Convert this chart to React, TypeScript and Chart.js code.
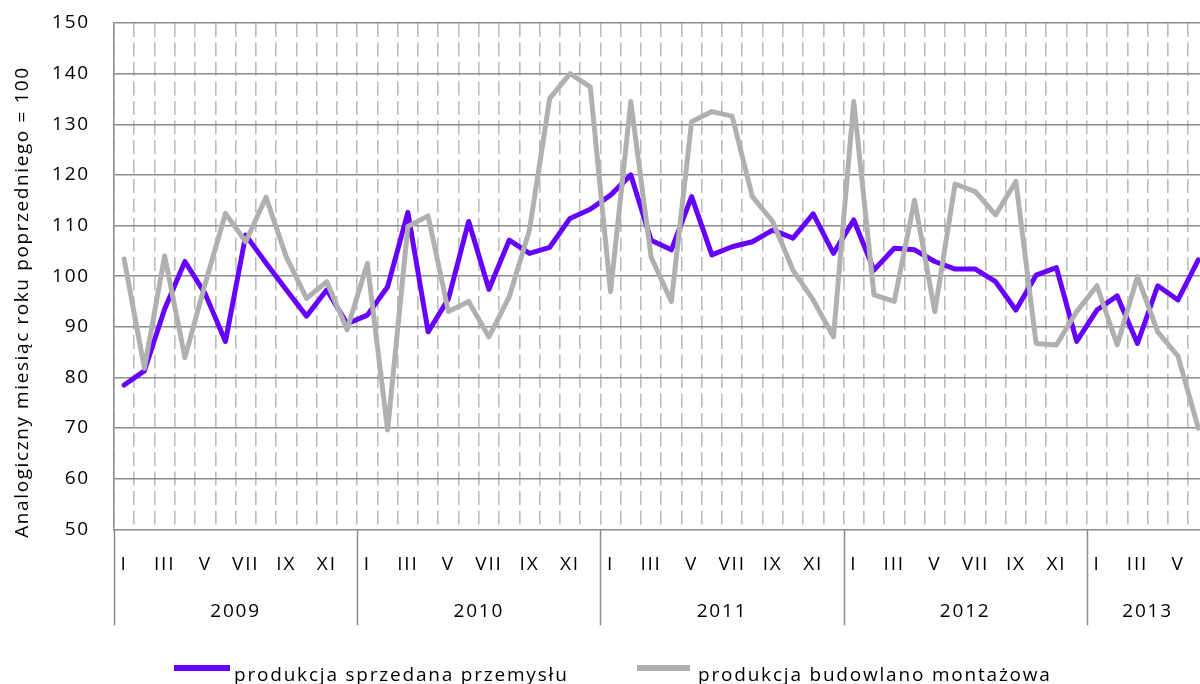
import React, { useEffect, useRef } from 'react';
import { Chart, registerables } from 'chart.js';

Chart.register(...registerables);

// ---------- data ----------
const years = ['2009', '2010', '2011', '2012', '2013'];
const monthsInYear = [12, 12, 12, 12, 6];
const romanMonths = ['I', 'II', 'III', 'IV', 'V', 'VI', 'VII', 'VIII', 'IX', 'X', 'XI', 'XII'];
const labelledMonths = ['I', 'III', 'V', 'VII', 'IX', 'XI'];

const industrySales = [
  78.5, 81.3, 93.5, 102.9, 96.5, 87.1, 108.1, 102.6, 97.3, 92.1, 97.3, 90.6,
  92.3, 97.9, 112.6, 89.0, 95.5, 110.8, 97.4, 107.1, 104.5, 105.7, 111.4, 113.2,
  116.0, 120.0, 107.1, 105.2, 115.7, 104.2, 105.8, 106.8, 109.1, 107.5, 112.3, 104.5,
  111.1, 101.2, 105.5, 105.2, 102.9, 101.4, 101.4, 98.9, 93.3, 100.2, 101.7, 87.1,
  93.3, 96.1, 86.7, 98.1, 95.3, 103.2,
];

const constructionOutput = [
  103.4, 81.8, 104.0, 83.9, 98.5, 112.4, 106.8, 115.6, 103.8, 95.6, 98.9, 89.4,
  102.5, 69.6, 109.8, 111.9, 93.0, 95.0, 88.0, 95.9, 109.1, 135.1, 140.0, 137.4,
  96.9, 134.5, 103.8, 95.0, 130.5, 132.5, 131.6, 115.7, 110.8, 101.2, 95.3, 88.0,
  134.5, 96.3, 95.0, 115.0, 93.0, 118.2, 116.7, 112.1, 118.7, 86.7, 86.4, 93.0,
  98.1, 86.4, 99.9, 89.0, 84.2, 70.0,
];

const seriesNames = ['produkcja sprzedana przemysłu', 'produkcja budowlano montażowa'];
const seriesColors = ['#6600ff', '#b0b0b0'];
const yMin = 50;
const yMax = 150;
const yStep = 10;
const yTitle = 'Analogiczny miesiąc roku poprzedniego = 100';

// ---------- derived category table ----------
const catMonth: string[] = [];
const catYear: string[] = [];
years.forEach((y, yi) => {
  for (let m = 0; m < monthsInYear[yi]; m++) {
    catMonth.push(romanMonths[m]);
    catYear.push(y);
  }
});
const categories = catMonth.map((m, i) => `${m} ${catYear[i]}`);

// ---------- layout constants ----------
const CANVAS_W = 1232;
const CANVAS_H = 700;
const FONT_FAMILY = '"Open Sans", Lato, sans-serif';
const FONT_SIZE = 19;
const LETTER_SPACING = '1.8px';
const AXIS_GREY = '#8c8c8c';

const excelAxisPlugin = {
  id: 'excelAxis',
  beforeDraw(chart: any) {
    (chart.ctx as any).letterSpacing = LETTER_SPACING;
  },
  afterDraw(chart: any) {
    const { ctx, chartArea } = chart;
    const x = chart.scales.x;
    ctx.save();
    (ctx as any).letterSpacing = LETTER_SPACING;
    const half = (x.getPixelForValue(1) - x.getPixelForValue(0)) / 2;
    const sepBottom = chartArea.bottom + 96;

    // group separators
    ctx.strokeStyle = AXIS_GREY;
    ctx.lineWidth = 1.5;
    ctx.setLineDash([]);
    ctx.beginPath();
    let start = 0;
    const bounds: number[] = [];
    monthsInYear.forEach((n) => {
      bounds.push(start);
      start += n;
    });
    bounds.push(start);
    bounds.forEach((bi) => {
      const px = Math.round(x.getPixelForValue(bi) - half) + 0.5;
      ctx.moveTo(px, chartArea.bottom);
      ctx.lineTo(px, sepBottom);
    });
    ctx.stroke();

    // month labels
    ctx.fillStyle = '#000';
    ctx.font = `${FONT_SIZE}px ${FONT_FAMILY}`;
    ctx.textAlign = 'center';
    ctx.textBaseline = 'middle';
    catMonth.forEach((m, i) => {
      if (labelledMonths.includes(m)) {
        ctx.fillText(m, x.getPixelForValue(i), chartArea.bottom + 35);
      }
    });

    // year labels
    for (let k = 0; k < years.length; k++) {
      const a = x.getPixelForValue(bounds[k]) - half;
      const b = x.getPixelForValue(bounds[k + 1]) - half;
      ctx.fillText(years[k], (a + b) / 2, chartArea.bottom + 82);
    }

    // y axis title
    ctx.save();
    (ctx as any).letterSpacing = '1.6px';
    ctx.translate(28, 302);
    ctx.rotate(-Math.PI / 2);
    ctx.textAlign = 'center';
    ctx.textBaseline = 'alphabetic';
    ctx.fillText(yTitle, 0, 0);
    ctx.restore();

    // legend
    const legendItems = [
      { boxX: 174, boxW: 56, textX: 234 },
      { boxX: 637, boxW: 53, textX: 698 },
    ];
    ctx.textAlign = 'left';
    ctx.textBaseline = 'alphabetic';
    chart.data.datasets.forEach((ds: any, i: number) => {
      const it = legendItems[i];
      ctx.fillStyle = ds.borderColor;
      ctx.fillRect(it.boxX, 665, it.boxW, 6);
      ctx.fillStyle = '#000';
      ctx.fillText(ds.label, it.textX, 681);
    });
    ctx.restore();
  },
};

export default function App() {
  const canvasRef = useRef<HTMLCanvasElement | null>(null);

  useEffect(() => {
    if (!canvasRef.current) return;
    const chart = new Chart(canvasRef.current, {
      type: 'line',
      data: {
        labels: categories,
        datasets: [
          {
            label: seriesNames[0],
            data: industrySales,
            borderColor: seriesColors[0],
            backgroundColor: seriesColors[0],
            borderWidth: 5,
            pointRadius: 0,
            pointHoverRadius: 0,
            tension: 0,
            borderJoinStyle: 'round',
            borderCapStyle: 'round',
            fill: false,
            order: 1,
          },
          {
            label: seriesNames[1],
            data: constructionOutput,
            borderColor: seriesColors[1],
            backgroundColor: seriesColors[1],
            borderWidth: 5,
            pointRadius: 0,
            pointHoverRadius: 0,
            tension: 0,
            borderJoinStyle: 'round',
            borderCapStyle: 'round',
            fill: false,
            order: 0,
          },
        ],
      },
      options: {
        responsive: false,
        maintainAspectRatio: false,
        animation: false,
        devicePixelRatio: 1,
        events: [],
        layout: { padding: { left: 0, right: 23.6, top: 23, bottom: 75 } },
        plugins: {
          legend: { display: false },
          tooltip: { enabled: false },
          title: { display: false },
        },
        scales: {
          x: {
            type: 'category',
            offset: true,
            grid: {
              display: true,
              offset: true,
              color: '#bcbcbc',
              lineWidth: 1.6,
              drawTicks: false,
              borderDash: [14, 5.5],
            } as any,
            border: { display: false, dash: [14, 5.5] },
            ticks: { display: false, autoSkip: false },
            afterFit: (s: any) => {
              s.height = 95.7;
              s.paddingLeft = 0;
              s.paddingRight = 0;
            },
          },
          y: {
            min: yMin,
            max: yMax,
            ticks: {
              stepSize: yStep,
              padding: 24,
              color: '#000',
              font: { family: FONT_FAMILY, size: FONT_SIZE },
            },
            grid: { color: AXIS_GREY, lineWidth: 1.5, drawTicks: false },
            border: { display: true, color: AXIS_GREY, width: 1.5 },
            afterFit: (s: any) => {
              s.width = 114;
              s.paddingTop = 0;
              s.paddingBottom = 0;
            },
          },
        },
      },
      plugins: [excelAxisPlugin],
    });
    return () => chart.destroy();
  }, []);

  return (
    <div
      style={{
        position: 'fixed',
        left: 0,
        top: 0,
        width: 1200,
        height: 684,
        overflow: 'hidden',
        background: '#fff',
      }}
    >
      <canvas
        ref={canvasRef}
        width={CANVAS_W}
        height={CANVAS_H}
        style={{ width: CANVAS_W, height: CANVAS_H, display: 'block' }}
      />
    </div>
  );
}
